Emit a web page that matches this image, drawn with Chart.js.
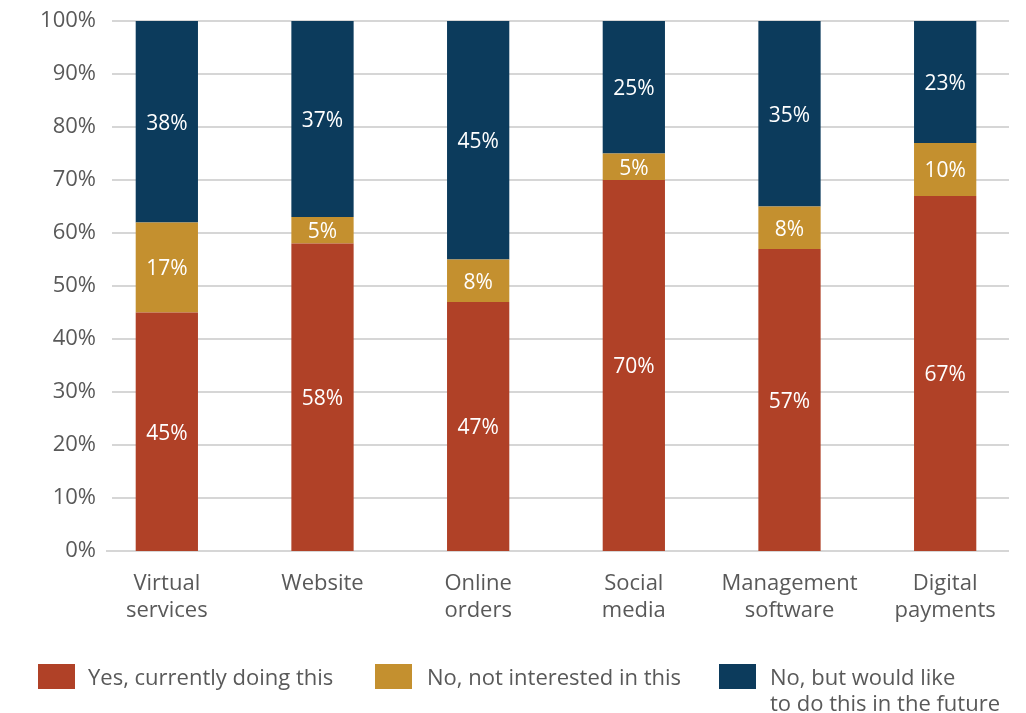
<!DOCTYPE html>
<html>
<head>
<meta charset="utf-8">
<script src="https://cdn.jsdelivr.net/npm/chart.js@4.4.1/dist/chart.umd.min.js"></script>
<style>
  html, body { margin: 0; padding: 0; background: #ffffff; }
  #wrap { position: relative; width: 1026px; height: 713px; overflow: hidden; }
  #chart { position: absolute; left: 0; top: 0; }
  .legend-item { position: absolute; font-family: "Open Sans", sans-serif; font-size: 22px; color: #595959; line-height: 26px; }
  .legend-item .sw { position: absolute; left: 0; top: 0; width: 37px; height: 25px; }
  .legend-item .tx { position: absolute; white-space: nowrap; top: -1px; }
</style>
</head>
<body>
<div id="wrap">
  <canvas id="chart" width="1026" height="713"></canvas>
  <div id="legend"></div>
</div>
<script>
// Survey categories (two-line axis labels)
const categories = [
  ["Virtual", "services"],
  ["Website"],
  ["Online", "orders"],
  ["Social", "media"],
  ["Management", "software"],
  ["Digital", "payments"]
];

// Share of respondents per answer, in percent
const yesDoing = [45, 58, 47, 70, 57, 67];
const notInterested = [17, 5, 8, 5, 8, 10];
const wouldLike = [38, 37, 45, 25, 35, 23];

const seriesNames = [
  "Yes, currently doing this",
  "No, not interested in this",
  ["No, but would like", "to do this in the future"]
];

const yTicks = [0, 10, 20, 30, 40, 50, 60, 70, 80, 90, 100];

const COLORS = ["#b04127", "#c4902f", "#0c3b5c"];
const TEXT = "#595959";
const GRID = "#d6d6d6";
const FONT = "'Open Sans', sans-serif";

// Horizontal gridlines drawn behind the bars, inset from the plot edges,
// plus the percent tick labels that sit just left of them
const gridPlugin = {
  id: "insetGrid",
  beforeDatasetsDraw(chart) {
    const { ctx, chartArea, scales } = chart;
    ctx.save();
    ctx.strokeStyle = GRID;
    ctx.lineWidth = 2;
    ctx.fillStyle = TEXT;
    ctx.font = "22px " + FONT;
    ctx.textAlign = "right";
    ctx.textBaseline = "middle";
    yTicks.forEach(v => {
      const y = Math.round(scales.y.getPixelForValue(v));
      const x0 = chartArea.left + (v === 0 ? 17 : 23);
      ctx.beginPath();
      ctx.moveTo(x0, y);
      ctx.lineTo(chartArea.right - 14, y);
      ctx.stroke();
      ctx.fillText(v + "%", chartArea.left + 7, y);
    });
    ctx.restore();
  }
};

// Percent labels centred in each stacked segment
const valueLabels = {
  id: "valueLabels",
  afterDatasetsDraw(chart) {
    const { ctx } = chart;
    ctx.save();
    ctx.fillStyle = "#ffffff";
    ctx.font = "21px " + FONT;
    ctx.textAlign = "center";
    ctx.textBaseline = "middle";
    chart.data.datasets.forEach((ds, di) => {
      const meta = chart.getDatasetMeta(di);
      meta.data.forEach((bar, i) => {
        const p = bar.getProps(["x", "y", "base"], true);
        ctx.fillText(ds.data[i] + "%", p.x, (p.y + p.base) / 2 + 2);
      });
    });
    ctx.restore();
  }
};

const ctx = document.getElementById("chart").getContext("2d");
new Chart(ctx, {
  type: "bar",
  data: {
    labels: categories,
    datasets: [
      { label: seriesNames[0], data: yesDoing, backgroundColor: COLORS[0] },
      { label: seriesNames[1], data: notInterested, backgroundColor: COLORS[1] },
      { label: seriesNames[2].join(" "), data: wouldLike, backgroundColor: COLORS[2] }
    ]
  },
  options: {
    responsive: false,
    animation: false,
    layout: { padding: { top: 21, right: 3, left: 0, bottom: 0 } },
    datasets: { bar: { barPercentage: 0.4, categoryPercentage: 1, borderWidth: 0 } },
    plugins: { legend: { display: false }, tooltip: { enabled: false } },
    scales: {
      x: {
        stacked: true,
        grid: { display: false, drawTicks: false },
        border: { display: false },
        ticks: { color: TEXT, font: { family: FONT, size: 22, lineHeight: 1.23 }, padding: 19, maxRotation: 0 },
        afterFit(scale) { scale.height = 162; }
      },
      y: {
        stacked: true,
        min: 0,
        max: 100,
        grid: { display: false, drawTicks: false },
        border: { display: false },
        ticks: { display: false },
        afterFit(scale) { scale.width = 89; }
      }
    }
  },
  plugins: [gridPlugin, valueLabels]
});

// Legend below the plot
const legendPos = [
  { left: 38, top: 664, textLeft: 50 },
  { left: 375, top: 664, textLeft: 52 },
  { left: 719, top: 664, textLeft: 51 }
];
const legend = document.getElementById("legend");
seriesNames.forEach((name, i) => {
  const item = document.createElement("div");
  item.className = "legend-item";
  item.style.left = legendPos[i].left + "px";
  item.style.top = legendPos[i].top + "px";
  const sw = document.createElement("div");
  sw.className = "sw";
  sw.style.background = COLORS[i];
  const tx = document.createElement("div");
  tx.className = "tx";
  tx.style.left = legendPos[i].textLeft + "px";
  (Array.isArray(name) ? name : [name]).forEach(line => {
    const d = document.createElement("div");
    d.textContent = line;
    tx.appendChild(d);
  });
  item.appendChild(sw);
  item.appendChild(tx);
  legend.appendChild(item);
});
</script>
</body>
</html>
